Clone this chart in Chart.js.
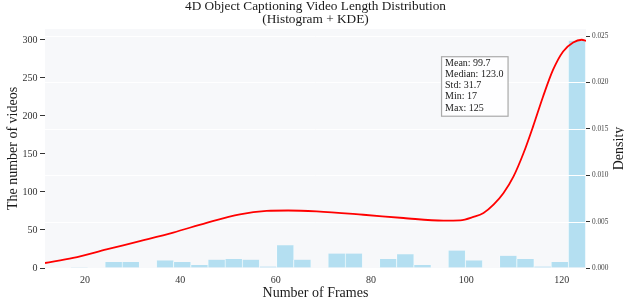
<!DOCTYPE html>
<html>
<head>
<meta charset="utf-8">
<script src="https://cdn.jsdelivr.net/npm/chart.js@4.4.0/dist/chart.umd.min.js"></script>
<style>
    html, body { margin: 0; padding: 0; background: #ffffff; }
    #wrap { width: 624px; height: 304px; }
</style>
</head>
<body>
<div id="wrap"><canvas id="lenChart" width="624" height="304"></canvas></div>
<script>
// Chart data
const titleLines = ['4D Object Captioning Video Length Distribution', '(Histogram + KDE)'];
const xTitle = 'Number of Frames';
const yTitle = 'The number of videos';
const y1Title = 'Density';

// histogram: 30 bins between 17 and 125 frames (bin centres)
const binCenters = [18.8, 22.4, 26.0, 29.6, 33.2, 36.8, 40.4, 44.0, 47.6, 51.2,
                    54.8, 58.4, 62.0, 65.6, 69.2, 72.8, 76.4, 80.0, 83.6, 87.2,
                    90.8, 94.4, 98.0, 101.6, 105.2, 108.8, 112.4, 116.0, 119.6, 123.2];
const binCounts = [1, 0, 8, 8, 0, 10, 8, 4, 11, 12,
                   11, 2, 30, 11, 0, 19, 19, 0, 12, 18,
                   4, 0, 23, 10, 0, 16, 12, 2, 8, 299];

// KDE curve (density axis)
const kdeX = [11.6, 17.5, 24.5, 31.5, 38.5, 45.5, 52.5, 58.1, 62.6, 68.6, 78.4, 86.8,
              95.2, 98.7, 101.5, 103.6, 105.7, 107.8, 109.9, 112.0, 114.0, 116.1,
              118.2, 120.3, 122.4, 124.2, 125.1];
const kdeY = [0.00054, 0.00108, 0.00200, 0.00290, 0.00382, 0.00487, 0.00578, 0.00615,
              0.00620, 0.00610, 0.00574, 0.00539, 0.00510, 0.00513, 0.00550, 0.00593,
              0.00682, 0.00808, 0.00987, 0.01239, 0.01526, 0.01849, 0.02137, 0.02334,
              0.02431, 0.02460, 0.02448];

const xTicks = [20, 40, 60, 80, 100, 120];
const countTicks = [0, 50, 100, 150, 200, 250, 300];
const densityTicks = [0, 0.005, 0.010, 0.015, 0.020, 0.025];

const statsLines = ['Mean: 99.7', 'Median: 123.0', 'Std: 31.7', 'Min: 17', 'Max: 125'];

const SERIF = "'Liberation Serif', 'DejaVu Serif', serif";
const colors = {
    plotBg: '#f7f8fa',
    grid: '#ffffff',
    bar: 'rgba(135, 206, 235, 0.6)',
    kde: '#ff0000',
    text: '#1a1a1a',
    tick: '#333333',
};

// plot area background
const plotBackground = {
    id: 'plotBackground',
    beforeDraw(chart) {
        const { ctx, chartArea: a } = chart;
        ctx.save();
        ctx.fillStyle = colors.plotBg;
        ctx.fillRect(a.left, a.top, a.right - a.left, a.bottom - a.top);
        ctx.restore();
    }
};

// white grid lines from the density axis: above the bars, below the KDE line
const gridOverBars = {
    id: 'gridOverBars',
    afterDatasetDraw(chart, args) {
        if (args.index !== 0) return;
        const { ctx, chartArea: a } = chart;
        const scale = chart.scales.y1;
        ctx.save();
        ctx.strokeStyle = colors.grid;
        ctx.lineWidth = 1;
        scale.ticks.forEach(t => {
            const y = Math.round(scale.getPixelForValue(t.value)) + 0.5;
            ctx.beginPath();
            ctx.moveTo(a.left, y);
            ctx.lineTo(a.right, y);
            ctx.stroke();
        });
        ctx.restore();
    }
};

// stats box and the right axis title
const annotations = {
    id: 'annotations',
    afterDraw(chart) {
        const { ctx, chartArea: a } = chart;
        const w = a.right - a.left;
        const h = a.bottom - a.top;
        const bx = a.left + 0.733 * w;
        const by = a.top + 0.116 * h;
        ctx.save();
        ctx.fillStyle = 'rgba(255, 255, 255, 0.85)';
        ctx.strokeStyle = '#aaaaaa';
        ctx.lineWidth = 1.2;
        ctx.fillRect(bx, by, 66.5, 59.5);
        ctx.strokeRect(bx, by, 66.5, 59.5);
        ctx.fillStyle = colors.text;
        ctx.font = '10px ' + SERIF;
        ctx.textBaseline = 'middle';
        ctx.textAlign = 'left';
        statsLines.forEach((line, i) => {
            ctx.fillText(line, bx + 3.5, by + 6.8 + i * 11.1);
        });

        // "Density" reads bottom-to-top like matplotlib
        ctx.translate(619, (a.top + a.bottom) / 2);
        ctx.rotate(-Math.PI / 2);
        ctx.textAlign = 'center';
        ctx.font = '14px ' + SERIF;
        ctx.fillText(y1Title, 0, 0);
        ctx.restore();
    }
};

const ctx = document.getElementById('lenChart').getContext('2d');
new Chart(ctx, {
    type: 'bar',
    data: {
        datasets: [{
            type: 'bar',
            label: 'Histogram',
            data: binCenters.map((x, i) => ({ x: x, y: binCounts[i] })),
            backgroundColor: colors.bar,
            borderColor: '#ffffff',
            borderWidth: { left: 0.6, right: 0.6, top: 0, bottom: 0 },
            borderSkipped: false,
            barPercentage: 1.0,
            categoryPercentage: 1.0,
            yAxisID: 'y',
            order: 2,
        }, {
            type: 'line',
            label: 'KDE',
            data: kdeX.map((x, i) => ({ x: x, y: kdeY[i] })),
            borderColor: colors.kde,
            borderWidth: 1.8,
            pointRadius: 0,
            fill: false,
            cubicInterpolationMode: 'monotone',
            yAxisID: 'y1',
            order: 1,
        }]
    },
    options: {
        responsive: false,
        animation: false,
        layout: { padding: 0 },
        plugins: {
            legend: { display: false },
            tooltip: { enabled: false },
            title: {
                display: true,
                text: titleLines,
                fullSize: false,
                color: colors.text,
                font: { family: SERIF, size: 13.3, weight: 'normal', lineHeight: 1.0 },
                padding: { top: 0, bottom: 2.4 },
            }
        },
        scales: {
            x: {
                type: 'linear',
                min: 11.6,
                max: 125.1,
                offset: false,
                grid: { display: false, drawTicks: false },
                border: { display: false },
                afterBuildTicks: (scale) => {
                    scale.ticks = xTicks.map(v => ({ value: v }));
                },
                afterFit: (scale) => { scale.height = 36; },
                ticks: {
                    color: colors.tick,
                    padding: 6.5,
                    maxRotation: 0,
                    font: { family: SERIF, size: 10 },
                },
                title: {
                    display: true,
                    text: xTitle,
                    color: colors.text,
                    font: { family: SERIF, size: 14, lineHeight: 1.2 },
                    padding: { top: 0, bottom: 2 },
                }
            },
            y: {
                type: 'linear',
                position: 'left',
                min: 0,
                max: 314.4,
                grid: {
                    drawOnChartArea: false,
                    drawTicks: true,
                    tickLength: 5,
                    tickColor: colors.tick,
                    tickWidth: 1,
                },
                border: { display: false },
                afterBuildTicks: (scale) => {
                    scale.ticks = countTicks.map(v => ({ value: v }));
                },
                afterFit: (scale) => { scale.width = 45; },
                ticks: {
                    color: colors.tick,
                    padding: 2.5,
                    font: { family: SERIF, size: 10 },
                    callback: (v) => String(v),
                },
                title: {
                    display: true,
                    text: yTitle,
                    color: colors.text,
                    font: { family: SERIF, size: 14, lineHeight: 1.2 },
                    padding: { top: 4.6, bottom: 0 },
                }
            },
            y1: {
                type: 'linear',
                position: 'right',
                min: 0,
                max: 0.02576,
                grid: {
                    drawOnChartArea: false,
                    drawTicks: true,
                    tickLength: 4,
                    tickColor: colors.tick,
                    tickWidth: 1,
                },
                border: { display: false },
                afterBuildTicks: (scale) => {
                    scale.ticks = densityTicks.map(v => ({ value: v }));
                },
                afterFit: (scale) => { scale.width = 38; },
                ticks: {
                    color: '#444444',
                    padding: 2,
                    font: { family: SERIF, size: 7.3 },
                    callback: (v) => v.toFixed(3),
                },
                title: { display: false }
            }
        }
    },
    plugins: [plotBackground, gridOverBars, annotations]
});
</script>
</body>
</html>
